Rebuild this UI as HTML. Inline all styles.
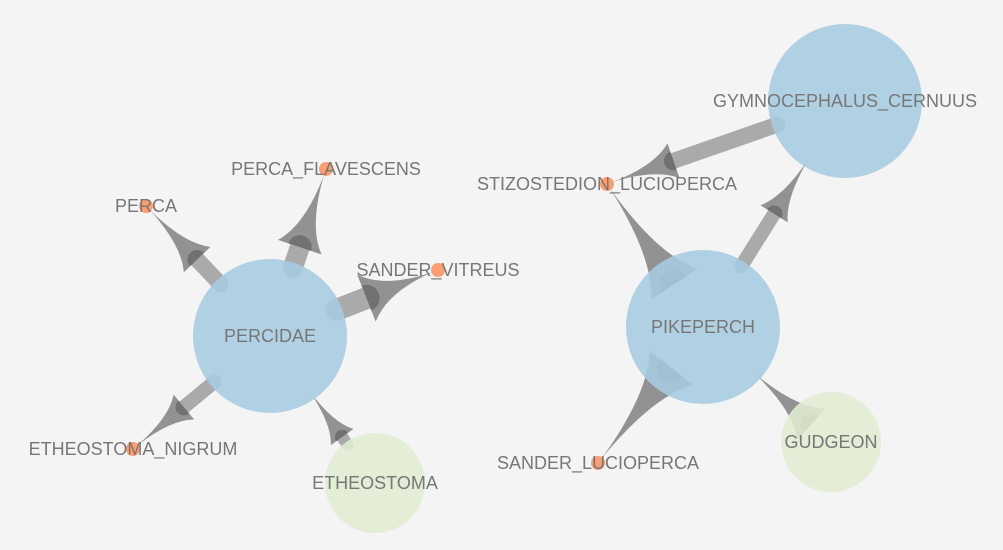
<!DOCTYPE html>
<html><head><meta charset="utf-8">
<style>
html,body{margin:0;padding:0;background:#f4f4f4;}
svg{display:block;}
text{font-family:"Liberation Sans",sans-serif;font-size:18px;fill:#777;}
</style></head>
<body>
<svg id="chart" width="1003" height="550" viewBox="0 0 1003 550">
<rect width="1003" height="550" fill="#f4f4f4"/>
<g id="edges"></g>
<g id="nodes"></g>
<g id="labels"></g>
</svg>
<script>
const nodeNames = ["PERCIDAE","PERCA","PERCA_FLAVESCENS","SANDER_VITREUS","ETHEOSTOMA_NIGRUM","ETHEOSTOMA","PIKEPERCH","GYMNOCEPHALUS_CERNUUS","STIZOSTEDION_LUCIOPERCA","SANDER_LUCIOPERCA","GUDGEON"];
const nodeX = [270,146,326,438,133,375,703,845,607,598,831];
const nodeY = [336,206,169,270,449,483,327,101,184,463,442];
const nodeR = [77,7,7,7,7,50,77,77,7,7,50];
const nodeType = ["hub","leaf","leaf","leaf","leaf","group","hub","hub","leaf","leaf","group"];
const edgeSource = [0,0,0,0,5,6,6,6,7,10];
const edgeTarget = [1,2,3,4,0,8,9,7,8,6];
const edgeWeight = [16,20,22,14,12,24,24,14,16,18];
const edgeBarLen = [34,22,32,40,10,0,0,62,110,0];

const NS="http://www.w3.org/2000/svg";
const colors={hub:"#a6cbe0",leaf:"#fc9e72",group:"#e1ecd0"};
const gE=document.getElementById('edges'),gN=document.getElementById('nodes'),gL=document.getElementById('labels');
function mk(tag,attrs,parent){const e=document.createElementNS(NS,tag);for(const k in attrs)e.setAttribute(k,attrs[k]);parent.appendChild(e);return e;}

for(let i=0;i<edgeSource.length;i++){
  const s=edgeSource[i],t=edgeTarget[i],w=edgeWeight[i];
  const dx=nodeX[t]-nodeX[s],dy=nodeY[t]-nodeY[s],d=Math.hypot(dx,dy);
  const ux=dx/d,uy=dy/d,px=-uy,py=ux;
  const start=nodeR[s]*0.93-(edgeBarLen[i]>0?0:20);
  const sx=nodeX[s]+ux*start,sy=nodeY[s]+uy*start;
  const jx=sx+ux*edgeBarLen[i],jy=sy+uy*edgeBarLen[i];
  const tx=nodeX[t]-ux*nodeR[t]*0.9,ty=nodeY[t]-uy*nodeR[t]*0.9;
  const g=mk('g',{},gE);
  
  
  if(edgeBarLen[i]>0){
    mk('line',{x1:sx,y1:sy,x2:jx,y2:jy,stroke:'#aaaaaa','stroke-width':w,'stroke-linecap':'butt'},g);
    mk('circle',{cx:sx,cy:sy,r:w/2,fill:'#aaaaaa'},g);
  }
  const h=w*1.15;
  const b1x=jx+px*h,b1y=jy+py*h,b2x=jx-px*h,b2y=jy-py*h;
  const L=Math.hypot(tx-jx,ty-jy);
  const cx1=jx+ux*L*0.3+px*w*0.1,cy1=jy+uy*L*0.3+py*w*0.1;
  const cx2=jx+ux*L*0.3-px*w*0.1,cy2=jy+uy*L*0.3-py*w*0.1;
  mk('path',{d:`M${b1x},${b1y} Q${cx1},${cy1} ${tx},${ty} Q${cx2},${cy2} ${b2x},${b2y} Z`,fill:'#8c8c8c','fill-opacity':0.95},g);
  const r=w*0.6;
  const a1x=jx+px*r,a1y=jy+py*r,a2x=jx-px*r,a2y=jy-py*r;
  const sweep=(ux*py-uy*px)>0?0:1;
  mk('path',{d:`M${a1x},${a1y} A${r},${r} 0 0 ${sweep} ${a2x},${a2y} Z`,fill:'#555','fill-opacity':0.55},g);
}
for(let i=0;i<nodeNames.length;i++){
  const c=mk('circle',{cx:nodeX[i],cy:nodeY[i],r:nodeR[i],fill:colors[nodeType[i]],'fill-opacity':nodeType[i]==='leaf'?1:0.88},gN);
  
  
  const tx=mk('text',{x:nodeX[i],y:nodeY[i]+6,'text-anchor':'middle'},gL);
  tx.textContent=nodeNames[i];
  
  
}
</script>
</body></html>
